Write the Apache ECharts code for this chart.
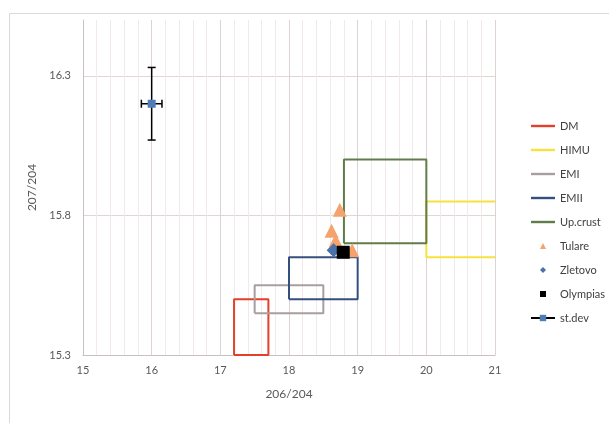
<!DOCTYPE html>
<html>
<head>
<meta charset="utf-8">
<script src="https://cdn.jsdelivr.net/npm/echarts@6/dist/echarts.min.js"></script>
<style>
html,body{margin:0;padding:0;background:#fff;}
#chart{width:609px;height:423px;}
</style>
</head>
<body>
<div id="chart"></div>
<script>
// ---- data ----
var seriesNames = ['DM','HIMU','EMI','EMII','Up.crust','Tulare','Zletovo','Olympias','st.dev'];

// outlined fields (x = 206/204, y = 207/204)
var dmX = [17.2, 17.7, 17.7, 17.2, 17.2];
var dmY = [15.3, 15.3, 15.5, 15.5, 15.3];
var himuX = [21, 20, 20, 21];
var himuY = [15.85, 15.85, 15.65, 15.65];
var emiX = [17.5, 18.5, 18.5, 17.5, 17.5];
var emiY = [15.45, 15.45, 15.55, 15.55, 15.45];
var emiiX = [18.0, 19.0, 19.0, 18.0, 18.0];
var emiiY = [15.5, 15.5, 15.65, 15.65, 15.5];
var crustX = [18.8, 20.0, 20.0, 18.8, 18.8];
var crustY = [15.7, 15.7, 16.0, 16.0, 15.7];

// samples
var tulareX = [18.74, 18.62, 18.68, 18.92];
var tulareY = [15.82, 15.745, 15.71, 15.675];
var zletovoX = [18.65];
var zletovoY = [15.675];
var olympiasX = [18.79];
var olympiasY = [15.668];

// standard deviation marker
var stdevX = [16.0];
var stdevY = [16.2];
var stdevErrX = [0.15];
var stdevErrY = [0.13];

// axes
var xMin = 15, xMax = 21, xStep = 1;
var yMin = 15.3, yMax = 16.5, yStep = 0.5;
var xTitle = '206/204';
var yTitle = '207/204';

function zip(xs, ys) { return xs.map(function (x, i) { return [x, ys[i]]; }); }

var FONT = 'Lato, "Open Sans", sans-serif';
var TXT = '#595959';
var LINE_ICON = 'path://M0,0M24,8M0,2.8L24,2.8L24,5.2L0,5.2Z';

function boxSeries(name, xs, ys, color) {
  return {
    name: name, type: 'line', data: zip(xs, ys), symbol: 'none',
    lineStyle: { color: color, width: 2 }, itemStyle: { color: color },
    silent: true, animation: false, z: 2
  };
}

var chart = echarts.init(document.getElementById('chart'), null, { renderer: 'canvas' });

var option = {
  animation: false,
  backgroundColor: '#ffffff',
  graphic: [{
    type: 'rect', silent: true, z: -10,
    shape: { x: 9.5, y: 13.5, width: 700, height: 500 },
    style: { fill: 'none', stroke: '#D9D9D9', lineWidth: 1 }
  }],
  grid: { left: 83, right: 114, top: 20, bottom: 68, containLabel: false },
  legend: {
    orient: 'vertical', left: 525, top: 114,
    itemWidth: 24, itemHeight: 8, itemGap: 10,
    textStyle: { fontFamily: FONT, fontSize: 11, color: '#404040', lineHeight: 14 },
    data: [
      { name: 'DM', icon: LINE_ICON }, { name: 'HIMU', icon: LINE_ICON }, { name: 'EMI', icon: LINE_ICON },
      { name: 'EMII', icon: LINE_ICON }, { name: 'Up.crust', icon: LINE_ICON },
      { name: 'Tulare', icon: 'path://M0,0M24,8M9,7L15,7L12,1Z' },
      { name: 'Zletovo', icon: 'path://M0,0M24,8M12,1L15,4L12,7L9,4Z' },
      { name: 'Olympias', icon: 'path://M0,0M24,8M9,1L15,1L15,7L9,7Z' },
      { name: 'st.dev' }
    ]
  },
  xAxis: {
    type: 'value', min: xMin, max: xMax, interval: xStep,
    name: xTitle, nameLocation: 'middle', nameGap: 33,
    nameTextStyle: { fontFamily: FONT, fontSize: 12, color: TXT },
    axisLine: { show: true, lineStyle: { color: '#C9C0C0', width: 1 } },
    axisTick: { show: false },
    axisLabel: { fontFamily: FONT, fontSize: 11, color: TXT, margin: 10 },
    splitLine: { show: true, lineStyle: { color: '#DDD3D3', width: 1 } },
    minorTick: { show: false, splitNumber: 5 },
    minorSplitLine: { show: true, lineStyle: { color: '#F0EAEA', width: 1 } }
  },
  yAxis: {
    type: 'value', min: yMin, max: yMax, interval: yStep,
    name: yTitle, nameLocation: 'middle', nameGap: 40, nameRotate: 90,
    nameTextStyle: { fontFamily: FONT, fontSize: 12, color: TXT },
    axisLine: { show: true, lineStyle: { color: '#C9C0C0', width: 1 } },
    axisTick: { show: false },
    axisLabel: {
      fontFamily: FONT, fontSize: 11, color: TXT, margin: 12,
      formatter: function (v) { return Math.abs(v - yMax) < 1e-6 ? '' : v.toFixed(1); }
    },
    splitLine: { show: true, showMinLine: false, showMaxLine: false, lineStyle: { color: '#E2D5D5', width: 1 } }
  },
  series: [
    boxSeries('DM', dmX, dmY, '#E2402A'),
    boxSeries('HIMU', himuX, himuY, '#F7E23C'),
    boxSeries('EMI', emiX, emiY, '#A89E9E'),
    boxSeries('EMII', emiiX, emiiY, '#34507F'),
    boxSeries('Up.crust', crustX, crustY, '#617C4A'),
    {
      name: 'Tulare', type: 'scatter', data: zip(tulareX, tulareY),
      symbol: 'triangle', symbolSize: 14, itemStyle: { color: '#F4A26E', opacity: 1 }, z: 3
    },
    {
      name: 'Zletovo', type: 'scatter', data: zip(zletovoX, zletovoY),
      symbol: 'diamond', symbolSize: 14, itemStyle: { color: '#4A72A8', opacity: 1 }, z: 3
    },
    {
      name: 'Olympias', type: 'scatter', data: zip(olympiasX, olympiasY),
      symbol: 'rect', symbolSize: 13, itemStyle: { color: '#000000', opacity: 1 }, z: 3
    },
    {
      name: 'st.dev-err', type: 'custom', z: 3, silent: true,
      data: stdevX.map(function (x, i) { return [x, stdevY[i], stdevErrX[i], stdevErrY[i]]; }),
      renderItem: function (params, api) {
        var x = api.value(0), y = api.value(1), ex = api.value(2), ey = api.value(3);
        var c = api.coord([x, y]);
        var l = api.coord([x - ex, y]), r = api.coord([x + ex, y]);
        var t = api.coord([x, y + ey]), b = api.coord([x, y - ey]);
        var cap = 4;
        var st = { stroke: '#000', lineWidth: 1.5 };
        function ln(x1, y1, x2, y2) { return { type: 'line', shape: { x1: x1, y1: y1, x2: x2, y2: y2 }, style: st }; }
        return {
          type: 'group', children: [
            ln(c[0], t[1], c[0], b[1]),
            ln(c[0] - cap, t[1], c[0] + cap, t[1]),
            ln(c[0] - cap, b[1], c[0] + cap, b[1]),
            ln(l[0], c[1], r[0], c[1]),
            ln(l[0], c[1] - cap, l[0], c[1] + cap),
            ln(r[0], c[1] - cap, r[0], c[1] + cap)
          ]
        };
      }
    },
    {
      name: 'st.dev', type: 'line', data: zip(stdevX, stdevY), z: 4,
      symbol: 'rect', symbolSize: 8, showSymbol: true,
      lineStyle: { color: '#000000', width: 2 }, itemStyle: { color: '#4F7DB8' }
    }
  ]
};
chart.setOption(option);
</script>
</body>
</html>
